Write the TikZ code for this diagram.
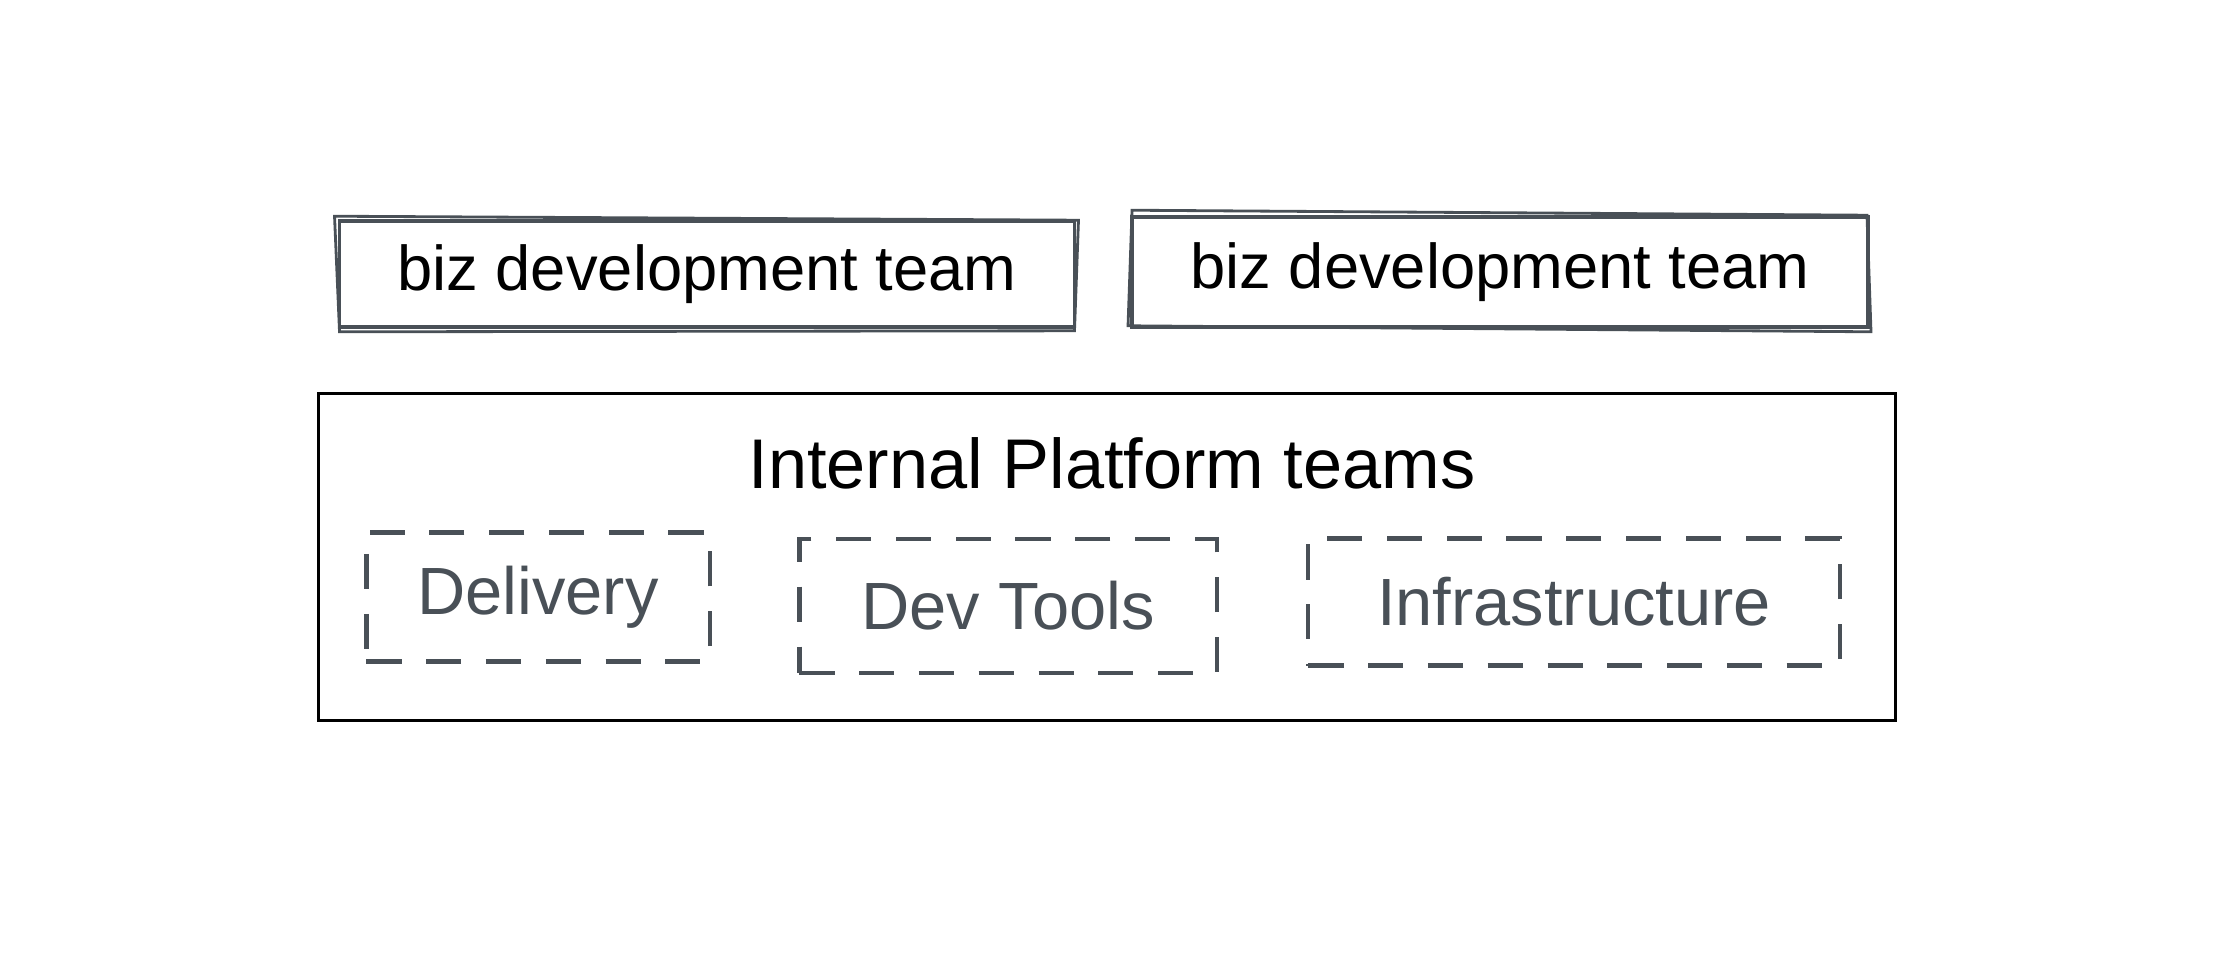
\documentclass[tikz,border=0pt]{standalone}
\usepackage{fontspec}
\setmainfont{Liberation Sans}
\definecolor{exgray}{HTML}{495057}
\begin{document}
\begin{tikzpicture}[x=0.01cm,y=-0.01cm,
  bizbox/.style={draw=exgray, line width=1pt, inner sep=0pt, text=black, font=\fontsize{18}{22}\selectfont},
  roughline/.style={draw=exgray, line width=0.8pt},
  platbox/.style={draw=black, line width=1pt, inner sep=0pt},
  titletext/.style={text=black, font=\fontsize{20}{24}\selectfont},
  teambox/.style={draw=exgray, line width=1.2pt, dash pattern=on 10pt off 7pt, inner sep=0pt, text=exgray, font=\fontsize{19}{23}\selectfont}]
\useasboundingbox[fill=white] (0,0) rectangle (2231,978);

\node[bizbox, minimum width=7.35cm, minimum height=1.06cm] (biz1) at (707,274) {biz development team};
\draw[roughline] ([shift={(-3,-3)}]biz1.north west) -- ([shift={(2,1)}]biz1.north east)
  -- ([shift={(-2,2)}]biz1.south east) -- ([shift={(2,3)}]biz1.south west) -- cycle;

\node[bizbox, minimum width=7.36cm, minimum height=1.10cm] (biz2) at (1500,272) {biz development team};
\draw[roughline] ([shift={(2,-5)}]biz2.north west) -- ([shift={(-3,0)}]biz2.north east)
  -- ([shift={(1,3)}]biz2.south east) -- ([shift={(-2,-3)}]biz2.south west) -- cycle;

\node[platbox, minimum width=15.76cm, minimum height=3.27cm] (plat) at (1107,557) {};
\node[titletext] (title) at (1112,463) {Internal Platform teams};

\node[teambox, minimum width=3.43cm, minimum height=1.29cm] (delivery) at (538,597) {Delivery};
\node[teambox, minimum width=4.17cm, minimum height=1.34cm] (devtools) at (1008,606) {Dev Tools};
\node[teambox, minimum width=5.31cm, minimum height=1.27cm] (infra) at (1574,602) {Infrastructure};
\end{tikzpicture}
\end{document}
